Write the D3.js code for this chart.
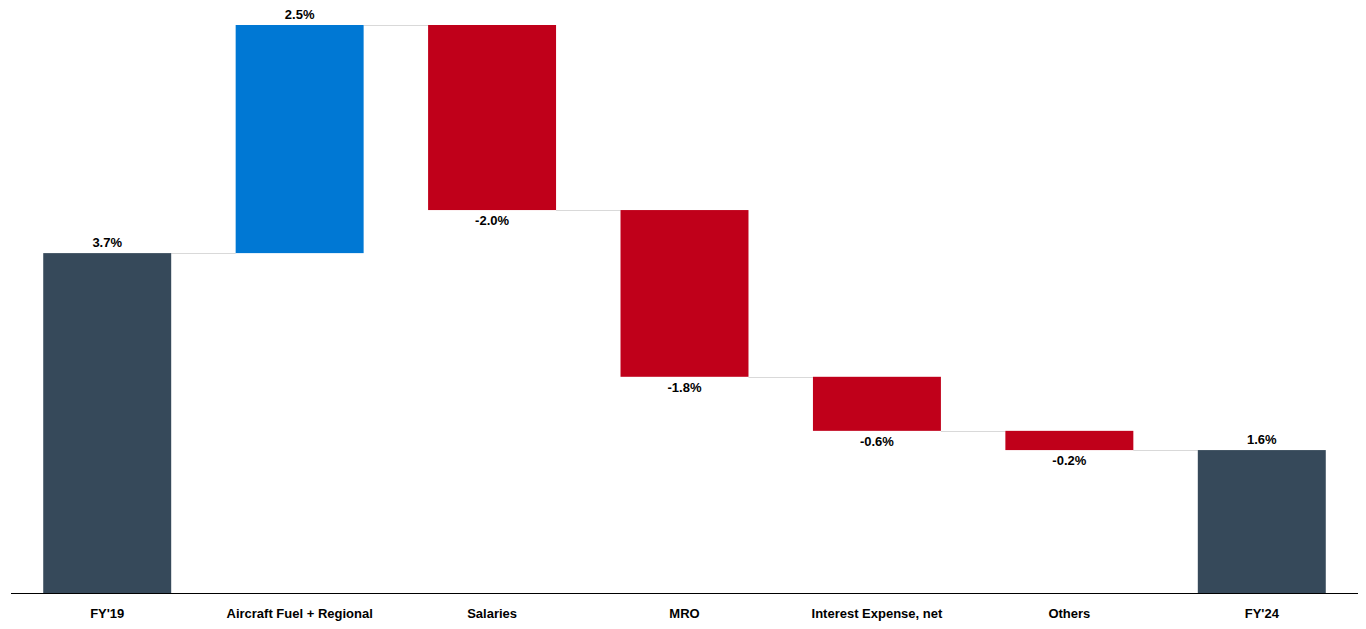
<!DOCTYPE html>
<html>
<head>
<meta charset="utf-8">
<script src="https://cdn.jsdelivr.net/npm/d3@7"></script>
<style>
  html, body { margin: 0; padding: 0; background: #fff; }
  svg { display: block; font-family: "Liberation Sans", Arial, sans-serif; }
</style>
</head>
<body>
<svg id="chart"></svg>
<script>
// waterfall data (labels shown to 1 decimal)
const categories = ["FY'19", "Aircraft Fuel + Regional", "Salaries", "MRO", "Interest Expense, net", "Others", "FY'24"];
const values = [3.71, 2.49, -2.02, -1.82, -0.59, -0.21, 1.56];
const kinds = ["total", "delta", "delta", "delta", "delta", "delta", "total"];

const width = 1366;
const height = 629;
const margin = { top: 25, right: 8, bottom: 36, left: 11 };

const svg = d3.select("#chart").attr("width", width).attr("height", height);

// running start / end for each step
let run = 0;
const steps = categories.map((name, i) => {
  let start, end;
  if (kinds[i] === "total") {
    start = 0;
    end = values[i];
    run = values[i];
  } else {
    start = run;
    end = run + values[i];
    run = end;
  }
  return { name, value: values[i], kind: kinds[i], start, end };
});

const x = d3.scaleBand()
  .domain(categories)
  .range([margin.left, width - margin.right])
  .paddingInner(0.335)
  .paddingOuter(0.1675);

const y = d3.scaleLinear()
  .domain([0, d3.max(steps, d => Math.max(d.start, d.end))])
  .range([height - margin.bottom, margin.top]);

const color = d => d.kind === "total" ? "#36495a" : (d.value >= 0 ? "#0078d4" : "#c0001a");

// connectors between bars
svg.append("g")
  .selectAll("line")
  .data(steps.slice(0, -1))
  .join("line")
  .attr("x1", d => x(d.name) + x.bandwidth())
  .attr("x2", (d, i) => x(categories[i + 1]))
  .attr("y1", d => Math.round(y(d.end)) + 0.5)
  .attr("y2", d => Math.round(y(d.end)) + 0.5)
  .attr("stroke", "#d9d9d9")
  .attr("stroke-width", 1);

// bars
svg.append("g")
  .selectAll("rect")
  .data(steps)
  .join("rect")
  .attr("x", d => x(d.name))
  .attr("y", d => y(Math.max(d.start, d.end)))
  .attr("width", x.bandwidth())
  .attr("height", d => Math.abs(y(d.start) - y(d.end)))
  .attr("fill", color);

// value labels
svg.append("g")
  .selectAll("text")
  .data(steps)
  .join("text")
  .attr("x", d => x(d.name) + x.bandwidth() / 2)
  .attr("y", d => d.value >= 0 ? y(d.end) - 6 : y(d.end) + 15)
  .attr("text-anchor", "middle")
  .style("font-size", "13px")
  .style("font-weight", "bold")
  .style("fill", "#000")
  .text(d => d.value.toFixed(1) + "%");

// x axis
const xAxis = svg.append("g")
  .attr("transform", `translate(0, ${height - margin.bottom})`)
  .call(d3.axisBottom(x).tickSize(0).tickPadding(16));

xAxis.select(".domain")
  .attr("stroke", "#000")
  .attr("d", `M${margin.left},0.5H${width - margin.right}`);

xAxis.selectAll("text")
  .style("font-family", '"Liberation Sans", Arial, sans-serif')
  .style("font-size", "13px")
  .style("font-weight", "bold")
  .style("fill", "#000");
</script>
</body>
</html>
